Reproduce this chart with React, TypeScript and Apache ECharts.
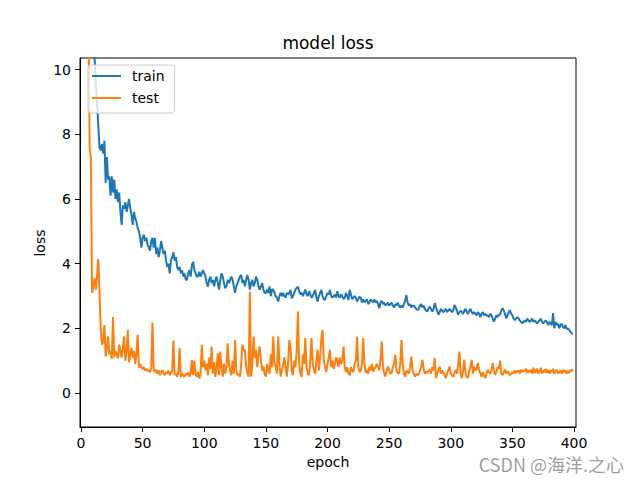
import React, { useEffect, useRef } from "react";
import * as echarts from "echarts";

const xTicks = [0, 50, 100, 150, 200, 250, 300, 350, 400];
const yTicks = [0, 2, 4, 6, 8, 10];

const trainLoss = [
  24.0, 19.5, 16.8, 15.0, 13.8, 12.9, 12.2, 11.7, 11.3, 10.9,
  10.7, 10.4, 9.6, 9.0, 8.3, 7.6, 7.5, 7.7, 7.4, 7.8,
  6.5, 7.3, 6.6, 6.7, 6.1, 6.7, 6.2, 6.6, 6.0, 6.3,
  5.9, 6.2, 5.6, 5.2, 5.8, 5.7, 5.9, 5.6, 5.8, 6.0,
  5.7, 5.5, 5.2, 5.6, 5.4, 5.3, 5.1, 5.0, 4.8, 4.5,
  4.8, 4.9, 4.7, 4.8, 4.6, 4.5, 4.4, 4.7, 4.8, 4.5,
  4.8, 4.3, 4.5, 4.2, 4.4, 4.7, 4.5, 4.3, 4.4, 4.1,
  3.9, 4.0, 3.7, 4.1, 4.2, 4.35, 4.1, 4.2, 3.9, 3.8,
  3.9, 3.7, 3.8, 3.6, 3.7, 3.5, 3.5, 3.7, 3.8, 3.6,
  3.96, 4.06, 3.8, 3.7, 3.6, 3.6, 3.75, 3.6, 3.7, 3.8,
  3.7, 3.6, 3.4, 3.29, 3.5, 3.6, 3.4, 3.5, 3.3, 3.5,
  3.6, 3.4, 3.2, 3.5, 3.7, 3.6, 3.4, 3.24, 3.3, 3.5,
  3.4, 3.5, 3.6, 3.5, 3.3, 3.1, 3.3, 3.4, 3.5, 3.6,
  3.65, 3.4, 3.5, 3.3, 3.5, 3.65, 3.5, 3.2, 3.4, 3.5,
  3.3, 3.4, 3.6, 3.5, 3.3, 3.2, 3.3, 3.4, 3.2, 3.1,
  3.09, 3.2, 3.1, 3.3, 3.0, 3.2, 3.2, 3.1, 3.0, 2.95,
  2.83, 3.0, 3.1, 3.0, 3.1, 3.0, 2.95, 3.1, 3.05, 3.1,
  3.19, 2.93, 3.0, 3.1, 3.2, 3.25, 3.29, 3.15, 3.05, 3.1,
  3.0, 3.1, 3.2, 3.05, 3.0, 3.15, 3.05, 2.95, 3.0, 3.1,
  3.19, 2.95, 2.83, 3.0, 3.1, 3.19, 3.0, 2.9, 2.88, 3.0,
  3.1, 3.05, 3.19, 3.0, 2.95, 3.0, 3.05, 2.95, 3.15, 3.0,
  2.95, 3.05, 3.0, 2.9, 2.95, 3.1, 3.0, 2.88, 3.19, 3.05,
  2.9, 2.95, 3.0, 2.95, 2.83, 2.9, 2.98, 2.95, 2.8, 2.9,
  2.8, 2.85, 2.9, 2.75, 2.8, 2.9, 2.85, 2.8, 2.9, 2.8,
  2.85, 2.75, 2.62, 2.8, 2.85, 2.75, 2.8, 2.7, 2.75, 2.8,
  2.7, 2.75, 2.8, 2.7, 2.65, 2.75, 2.7, 2.8, 2.7, 2.65,
  2.7, 2.65, 2.75, 2.85, 3.03, 2.8, 2.7, 2.75, 2.65, 2.7,
  2.7, 2.65, 2.6, 2.57, 2.6, 2.7, 2.75, 2.65, 2.7, 2.6,
  2.55, 2.52, 2.62, 2.67, 2.6, 2.52, 2.6, 2.78, 2.65, 2.55,
  2.42, 2.5, 2.6, 2.55, 2.5, 2.55, 2.6, 2.5, 2.55, 2.6,
  2.55, 2.5, 2.55, 2.72, 2.65, 2.55, 2.42, 2.5, 2.55, 2.5,
  2.45, 2.55, 2.6, 2.5, 2.45, 2.55, 2.6, 2.5, 2.45, 2.5,
  2.45, 2.4, 2.5, 2.45, 2.35, 2.45, 2.5, 2.4, 2.45, 2.4,
  2.4, 2.35, 2.45, 2.4, 2.3, 2.21, 2.3, 2.4, 2.35, 2.42,
  2.42, 2.55, 2.62, 2.55, 2.45, 2.31, 2.4, 2.5, 2.57, 2.45,
  2.4, 2.3, 2.26, 2.3, 2.35, 2.3, 2.25, 2.2, 2.16, 2.2,
  2.25, 2.2, 2.3, 2.25, 2.2, 2.25, 2.3, 2.2, 2.25, 2.2,
  2.15, 2.2, 2.25, 2.3, 2.2, 2.15, 2.2, 2.25, 2.2, 2.1,
  2.2, 2.15, 2.1, 2.47, 2.0, 2.2, 2.1, 2.15, 2.0, 2.1,
  2.15, 2.05, 2.0, 2.1, 1.98, 2.0, 1.95, 1.9, 1.85, 1.82,
];

const testLoss = [
  32, 26, 21, 18, 15, 13, 12, 7.6, 7.3, 3.1,
  3.3, 3.55, 3.2, 3.6, 4.14, 3.2, 2.0, 1.5, 1.6, 2.1,
  1.13, 1.4, 1.75, 1.2, 1.3, 1.05, 2.35, 1.1, 1.3, 1.2,
  1.07, 1.5, 1.3, 1.1, 1.4, 1.75, 1.0, 1.3, 1.95, 0.95,
  1.2, 1.4, 1.1, 1.3, 0.9, 1.2, 1.8, 0.78, 0.9, 0.8,
  0.75, 0.8, 0.7, 0.75, 0.68, 0.7, 0.65, 0.75, 2.18, 0.7,
  0.65, 0.72, 0.6, 0.7, 0.55, 0.65, 0.7, 0.6, 0.55, 0.65,
  0.6, 0.7, 0.55, 0.62, 0.7, 1.62, 0.55, 0.6, 0.5, 0.65,
  1.4, 0.5, 0.6, 0.55, 0.5, 0.6, 0.55, 0.65, 0.5, 0.6,
  1.03, 0.55, 1.0, 0.6, 0.5, 0.65, 0.45, 0.6, 1.49, 0.8,
  1.0, 0.7, 0.9, 0.55, 1.1, 0.75, 1.44, 0.6, 0.95, 0.5,
  0.8, 1.23, 0.55, 1.28, 0.82, 0.51, 0.9, 0.6, 0.8, 1.54,
  0.9, 0.7, 0.55, 1.0, 0.6, 1.64, 0.7, 0.55, 0.6, 0.51,
  0.9, 1.5, 1.3, 1.34, 0.82, 0.6, 0.51, 3.14, 0.51, 0.9,
  1.75, 1.1, 1.34, 0.8, 1.2, 1.44, 1.0, 0.7, 0.82, 0.6,
  0.51, 0.9, 0.7, 0.6, 1.2, 0.8, 1.75, 0.9, 0.82, 0.6,
  1.75, 0.9, 0.51, 0.7, 0.9, 1.1, 0.8, 0.51, 0.9, 1.64,
  1.4, 0.7, 0.55, 1.0, 0.8, 1.3, 2.52, 0.9, 0.6, 0.5,
  1.2, 0.9, 1.7, 0.8, 0.6, 0.55, 1.0, 1.7, 0.9, 0.7,
  0.6, 1.0, 1.34, 0.7, 1.1, 1.7, 1.95, 1.0, 0.8, 0.65,
  0.9, 1.1, 1.34, 0.8, 1.0, 0.75, 0.9, 1.1, 1.0, 0.8,
  1.1, 0.9, 1.0, 1.44, 0.8, 0.65, 0.8, 0.6, 0.55, 0.8,
  0.7, 0.65, 0.9, 1.0, 1.75, 0.8, 0.65, 0.7, 0.9, 1.7,
  0.9, 0.62, 0.7, 0.6, 0.82, 0.7, 0.9, 0.66, 0.75, 0.8,
  0.9, 0.82, 0.7, 1.0, 1.59, 0.8, 0.6, 0.51, 0.7, 0.82,
  0.7, 0.6, 0.62, 0.8, 0.9, 1.18, 0.7, 0.62, 0.6, 0.9,
  1.64, 0.9, 0.6, 0.51, 0.7, 0.66, 0.6, 0.8, 1.13, 0.7,
  0.6, 0.51, 0.6, 0.55, 0.58, 0.7, 0.8, 1.03, 0.75, 0.6,
  0.66, 0.62, 0.7, 0.72, 0.6, 0.8, 0.7, 1.08, 0.46, 0.6,
  0.7, 0.82, 0.6, 0.7, 0.62, 0.55, 0.46, 0.6, 0.7, 0.82,
  0.6, 0.55, 0.5, 0.62, 0.72, 0.6, 0.9, 1.28, 0.6, 0.46,
  0.7, 1.03, 0.6, 0.5, 0.46, 0.7, 0.8, 1.03, 0.6, 0.82,
  0.7, 0.75, 0.93, 0.7, 0.62, 0.5, 0.65, 0.55, 0.46, 0.6,
  0.72, 0.65, 0.6, 0.7, 0.93, 0.7, 0.56, 0.65, 0.8, 0.75,
  1.0, 0.6, 0.55, 0.65, 0.72, 0.6, 0.68, 0.62, 0.55, 0.6,
  0.65, 0.6, 0.7, 0.62, 0.68, 0.7, 0.6, 0.72, 0.65, 0.7,
  0.68, 0.75, 0.62, 0.7, 0.65, 0.72, 0.6, 0.78, 0.62, 0.7,
  0.75, 0.6, 0.68, 0.78, 0.6, 0.7, 0.65, 0.75, 0.62, 0.72,
  0.6, 0.7, 0.65, 0.75, 0.6, 0.68, 0.72, 0.6, 0.65, 0.7,
  0.6, 0.72, 0.65, 0.7, 0.6, 0.68, 0.62, 0.7, 0.72, 0.68,
];

const FONT = "DejaVu Sans";

export default function App() {
  const ref = useRef<HTMLDivElement>(null);
  useEffect(() => {
    document.body.style.margin = "0";
    const chart = echarts.init(ref.current!, null, { renderer: "svg" });
    const axisLine = { show: true, onZero: false, lineStyle: { color: "#000", width: 1 } };
    const tickStyle = { show: true, length: 5, lineStyle: { color: "#000", width: 1 } };
    const labelStyle = { color: "#000", fontFamily: FONT, fontSize: 14, margin: 9 };
    chart.setOption({
      animation: false,
      backgroundColor: "#fff",
      grid: {
        left: 80,
        right: 64,
        top: 58,
        bottom: 53,
        show: true,
        borderColor: "#000",
        borderWidth: 1,
        backgroundColor: "transparent",
      },
      xAxis: {
        type: "value",
        min: -0.8,
        max: 401.6,
        axisLine,
        splitLine: { show: false },
        axisTick: { ...tickStyle, customValues: xTicks },
        axisLabel: { ...labelStyle, customValues: xTicks },
      },
      yAxis: {
        type: "value",
        min: -1.05,
        max: 10.36,
        axisLine,
        splitLine: { show: false },
        axisTick: { ...tickStyle, customValues: yTicks },
        axisLabel: { ...labelStyle, customValues: yTicks },
      },
      legend: {
        orient: "vertical",
        left: 88,
        top: 65,
        padding: [3, 10, 7, 4],
        itemGap: 6,
        itemWidth: 29,
        itemHeight: 2,
        icon: "rect",
        backgroundColor: "rgba(255,255,255,0.8)",
        borderColor: "#cccccc",
        borderWidth: 1,
        borderRadius: 3,
        textStyle: {
          color: "#000",
          fontFamily: FONT,
          fontSize: 14,
          lineHeight: 16,
          padding: [0, 0, 0, 6],
        },
        data: ["train", "test"],
      },
      series: [
        {
          name: "train",
          type: "line",
          data: trainLoss.map((v, i) => [i, v]),
          symbol: "none",
          lineStyle: { color: "#1f77b4", width: 2 },
          itemStyle: { color: "#1f77b4" },
          z: 2,
        },
        {
          name: "test",
          type: "line",
          data: testLoss.map((v, i) => [i, v]),
          symbol: "none",
          lineStyle: { color: "#ff7f0e", width: 2 },
          itemStyle: { color: "#ff7f0e" },
          z: 3,
        },
      ],
      graphic: [
        {
          type: "text",
          x: 328,
          y: 43,
          style: {
            text: "model loss",
            font: `17px '${FONT}'`,
            fill: "#000",
            textAlign: "center",
            textVerticalAlign: "middle",
          },
        },
        {
          type: "text",
          x: 328,
          y: 462,
          style: {
            text: "epoch",
            font: `14px '${FONT}'`,
            fill: "#000",
            textAlign: "center",
            textVerticalAlign: "middle",
          },
        },
        {
          type: "text",
          x: 40,
          y: 243,
          rotation: Math.PI / 2,
          style: {
            text: "loss",
            font: `14px '${FONT}'`,
            fill: "#000",
            textAlign: "center",
            textVerticalAlign: "middle",
          },
        },
        {
          type: "text",
          x: 624,
          y: 464,
          style: {
            text: "CSDN @海洋.之心",
            font: "18px 'Noto Sans CJK SC', 'DejaVu Sans'",
            fill: "rgba(140,140,140,0.85)",
            textAlign: "right",
            textVerticalAlign: "middle",
          },
        },
      ],
    });
    return () => chart.dispose();
  }, []);
  return <div ref={ref} style={{ width: 640, height: 480 }} />;
}
